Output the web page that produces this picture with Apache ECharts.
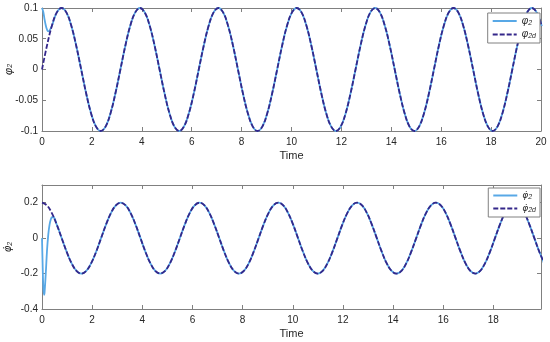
<!DOCTYPE html>
<html><head><meta charset="utf-8">
<script src="https://cdn.jsdelivr.net/npm/echarts@6/dist/echarts.min.js"></script>
<style>html,body{margin:0;padding:0;background:#fff}#c{width:550px;height:342px}</style>
</head><body><div id="c"></div>
<script>
// Sample times (s)
const time = [
0,0.196,0.393,0.589,0.785,0.982,1.178,1.374,1.571,1.767,1.963,2.160,2.356,2.553,2.749,2.945,
3.142,3.338,3.534,3.731,3.927,4.123,4.320,4.516,4.712,4.909,5.105,5.301,5.498,5.694,5.890,6.087,
6.283,6.480,6.676,6.872,7.069,7.265,7.461,7.658,7.854,8.050,8.247,8.443,8.639,8.836,9.032,9.228,
9.425,9.621,9.817,10.014,10.210,10.407,10.603,10.799,10.996,11.192,11.388,11.585,11.781,11.977,12.174,12.370,
12.566,12.763,12.959,13.155,13.352,13.548,13.744,13.941,14.137,14.334,14.530,14.726,14.923,15.119,15.315,15.512,
15.708,15.904,16.101,16.297,16.493,16.690,16.886,17.082,17.279,17.475,17.671,17.868,18.064,18.261,18.457,18.653,
18.850,19.046,19.242,19.439,19.635,19.831,20.028];
// desired angle phi2d
const phi2d = [
0,0.0383,0.0707,0.0924,0.1,0.0924,0.0707,0.0383,0,-0.0383,-0.0707,-0.0924,-0.1,-0.0924,-0.0707,-0.0383,
0,0.0383,0.0707,0.0924,0.1,0.0924,0.0707,0.0383,0,-0.0383,-0.0707,-0.0924,-0.1,-0.0924,-0.0707,-0.0383,
0,0.0383,0.0707,0.0924,0.1,0.0924,0.0707,0.0383,0,-0.0383,-0.0707,-0.0924,-0.1,-0.0924,-0.0707,-0.0383,
0,0.0383,0.0707,0.0924,0.1,0.0924,0.0707,0.0383,0,-0.0383,-0.0707,-0.0924,-0.1,-0.0924,-0.0707,-0.0383,
0,0.0383,0.0707,0.0924,0.1,0.0924,0.0707,0.0383,0,-0.0383,-0.0707,-0.0924,-0.1,-0.0924,-0.0707,-0.0383,
0,0.0383,0.0707,0.0924,0.1,0.0924,0.0707,0.0383,0,-0.0383,-0.0707,-0.0924,-0.1,-0.0924,-0.0707,-0.0383,
0,0.0383,0.0707,0.0924,0.1,0.0924,0.0707];
// actual angle phi2: initial transient, then tracks phi2d
const phi2StartT = [0,0.05,0.1,0.15,0.2,0.25,0.3];
const phi2StartV = [0.1,0.094,0.082,0.072,0.065,0.062,0.063];
const phi2JoinIndex = 2;
// desired rate dphi2d
const dphi2d = [
0.2,0.1848,0.1414,0.0765,0,-0.0765,-0.1414,-0.1848,-0.2,-0.1848,-0.1414,-0.0765,0,0.0765,0.1414,0.1848,
0.2,0.1848,0.1414,0.0765,0,-0.0765,-0.1414,-0.1848,-0.2,-0.1848,-0.1414,-0.0765,0,0.0765,0.1414,0.1848,
0.2,0.1848,0.1414,0.0765,0,-0.0765,-0.1414,-0.1848,-0.2,-0.1848,-0.1414,-0.0765,0,0.0765,0.1414,0.1848,
0.2,0.1848,0.1414,0.0765,0,-0.0765,-0.1414,-0.1848,-0.2,-0.1848,-0.1414,-0.0765,0,0.0765,0.1414,0.1848,
0.2,0.1848,0.1414,0.0765,0,-0.0765,-0.1414,-0.1848,-0.2,-0.1848,-0.1414,-0.0765,0,0.0765,0.1414,0.1848,
0.2,0.1848,0.1414,0.0765,0,-0.0765,-0.1414,-0.1848,-0.2,-0.1848,-0.1414,-0.0765,0,0.0765,0.1414,0.1848,
0.2,0.1848,0.1414,0.0765,0,-0.0765,-0.1414];
// actual rate dphi2: initial transient, then tracks dphi2d
const dphi2StartT = [0,0.02,0.05,0.08,0.1,0.15,0.2,0.25,0.3,0.35,0.4,0.45];
const dphi2StartV = [0,-0.12,-0.27,-0.32,-0.31,-0.2,-0.07,0.02,0.075,0.105,0.118,0.118];
const dphi2JoinIndex = 3;

const topXTicks = [0,2,4,6,8,10,12,14,16,18,20];
const botXTicks = [0,2,4,6,8,10,12,14,16,18];

const pairs = (t, v) => t.map((x, i) => [x, v[i]]);
const phi2dData = pairs(time, phi2d);
const phi2Data = pairs(phi2StartT, phi2StartV).concat(phi2dData.slice(phi2JoinIndex));
const dphi2dData = pairs(time, dphi2d);
const dphi2Data = pairs(dphi2StartT, dphi2StartV).concat(dphi2dData.slice(dphi2JoinIndex));

const FONT = 'Liberation Sans';
const DOTFONT = 'DejaVu Sans';
const TXT = '#262626';
const FRAME = '#808080';
const LIGHT = '#58a8e6';
const DARK = '#34278a';

function xAx(gi, max, ticks, pos, show) {
  return {
    type: 'value', gridIndex: gi, position: pos, min: 0, max: max, interval: 2,
    name: show ? 'Time' : '', nameLocation: 'middle', nameGap: 19, nameMoveOverlap: false,
    nameTextStyle: {fontFamily: FONT, fontSize: 11, color: TXT},
    axisLine: {show: true, onZero: false, lineStyle: {color: FRAME, width: 1}},
    axisTick: {show: true, inside: true, length: 4, lineStyle: {color: FRAME}},
    axisLabel: {show: show, fontFamily: FONT, fontSize: 10, color: TXT, margin: 6,
      formatter: v => ticks.indexOf(Math.round(v * 1000) / 1000) >= 0 ? String(Math.round(v)) : ''},
    splitLine: {show: false}
  };
}
const nameRich = {
  i: {fontFamily: FONT, fontSize: 11, fontStyle: 'italic', color: TXT},
  d: {fontFamily: DOTFONT, fontSize: 10, fontStyle: 'italic', color: TXT},
  s: {fontFamily: FONT, fontSize: 7, fontStyle: 'italic', color: TXT, verticalAlign: 'bottom', padding: [4,0,0,0]}
};
function yAx(gi, min, max, interval, labels, pos, show, name) {
  return {
    type: 'value', gridIndex: gi, position: pos, min: min, max: max, interval: interval,
    name: show ? name : '', nameLocation: 'middle', nameGap: 28, nameRotate: 90, nameMoveOverlap: false,
    nameTextStyle: {fontFamily: FONT, fontSize: 11, color: TXT, rich: nameRich},
    axisLine: {show: true, onZero: false, lineStyle: {color: FRAME, width: 1}},
    axisTick: {show: true, inside: true, length: 4, lineStyle: {color: FRAME}},
    axisLabel: {show: show, fontFamily: FONT, fontSize: 10, color: TXT, margin: 4,
      formatter: v => { const r = Math.round(v * 1000) / 1000; return labels.indexOf(r) >= 0 ? String(r) : ''; }},
    splitLine: {show: false}
  };
}

const legRich = {
  i: {fontFamily: FONT, fontSize: 10, fontStyle: 'italic', color: TXT},
  d: {fontFamily: DOTFONT, fontSize: 9, fontStyle: 'italic', color: TXT},
  s: {fontFamily: FONT, fontSize: 7, fontStyle: 'italic', color: TXT, verticalAlign: 'bottom', padding: [4,0,0,0]}
};
const legendLabels = {
  'phi2': '{i|φ}{s|2}', 'phi2d': '{i|φ}{s|2d}',
  'dphi2': '{d|φ\u0307}{s|2}', 'dphi2d': '{d|φ\u0307}{s|2d}'
};
function legend(names, top) {
  return {
    data: names, orient: 'vertical', right: 10, top: top, itemWidth: 24, itemHeight: 8, itemGap: 3,
    padding: [3, 4, 3, 4], borderColor: FRAME, borderWidth: 1, backgroundColor: '#fff',
    itemStyle: {opacity: 0},
    formatter: n => legendLabels[n], textStyle: {rich: legRich}
  };
}

const chart = echarts.init(document.getElementById('c'), null, {renderer: 'canvas'});
chart.setOption({
  animation: false,
  backgroundColor: '#fff',
  grid: [
    {left: 42, right: 9, top: 8, height: 123, outerBoundsMode: 'none', containLabel: false},
    {left: 42, right: 9, top: 185, height: 124, outerBoundsMode: 'none', containLabel: false}
  ],
  xAxis: [
    xAx(0, 20, topXTicks, 'bottom', true), xAx(0, 20, topXTicks, 'top', false),
    xAx(1, 19.9, botXTicks, 'bottom', true), xAx(1, 19.9, botXTicks, 'top', false)
  ],
  yAxis: [
    yAx(0, -0.1, 0.1, 0.05, [-0.1,-0.05,0,0.05,0.1], 'left', true, '{i|φ}{s|2}'),
    yAx(0, -0.1, 0.1, 0.05, [], 'right', false, ''),
    yAx(1, -0.4, 0.3, 0.2, [-0.4,-0.2,0,0.2], 'left', true, '{d|φ\u0307}{s|2}'),
    yAx(1, -0.4, 0.3, 0.2, [], 'right', false, '')
  ],
  legend: [legend(['phi2','phi2d'], 13), legend(['dphi2','dphi2d'], 188)],
  series: [
    {name: 'phi2', type: 'line', xAxisIndex: 0, yAxisIndex: 0, data: phi2Data, smooth: 0.4, symbol: 'none',
     lineStyle: {color: LIGHT, width: 1.8}, itemStyle: {color: LIGHT}},
    {name: 'phi2d', type: 'line', xAxisIndex: 0, yAxisIndex: 0, data: phi2dData, smooth: 0.4, symbol: 'none',
     lineStyle: {color: DARK, width: 1.8, type: [5, 2]}, itemStyle: {color: DARK}},
    {name: 'dphi2', type: 'line', xAxisIndex: 2, yAxisIndex: 2, data: dphi2Data, smooth: 0.4, symbol: 'none',
     lineStyle: {color: LIGHT, width: 1.8}, itemStyle: {color: LIGHT}},
    {name: 'dphi2d', type: 'line', xAxisIndex: 2, yAxisIndex: 2, data: dphi2dData, smooth: 0.4, symbol: 'none',
     lineStyle: {color: DARK, width: 1.8, type: [5, 2]}, itemStyle: {color: DARK}}
  ]
});
</script></body></html>
